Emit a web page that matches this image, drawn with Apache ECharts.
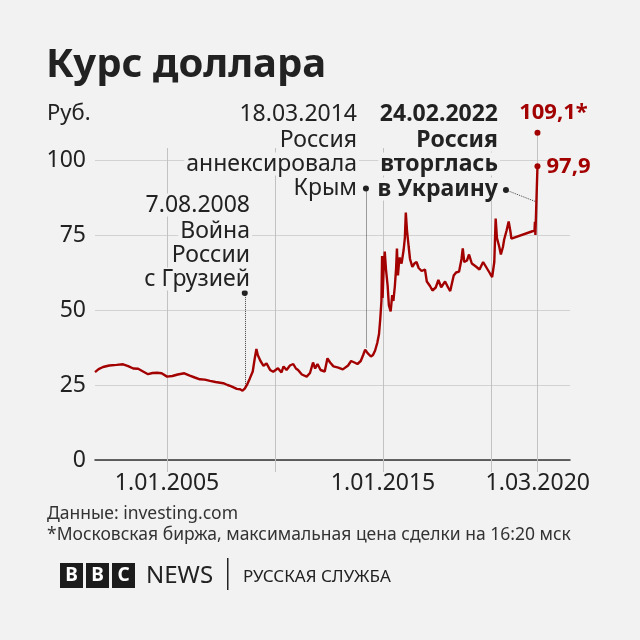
<!DOCTYPE html>
<html>
<head>
<meta charset="utf-8">
<script src="https://cdn.jsdelivr.net/npm/echarts@6/dist/echarts.min.js"></script>
<style>
  html, body { margin: 0; padding: 0; background: #f2f2f2; }
  #chart { width: 640px; height: 640px; }
</style>
</head>
<body>
<div id="chart"></div>
<script>
// курс доллара, значения
var dates = [
  '2001-09-01', '2001-11-01', '2002-01-15', '2002-05-01', '2002-09-01', '2002-12-20',
  '2003-03-15', '2003-06-10', '2003-09-01', '2003-11-15', '2004-02-15', '2004-05-01',
  '2004-07-15', '2004-10-01', '2005-01-01', '2005-04-01', '2005-07-01', '2005-10-20',
  '2006-01-20', '2006-04-15', '2006-07-10', '2006-10-01', '2006-12-28', '2007-04-01',
  '2007-08-10', '2007-10-20', '2007-12-15', '2008-03-25', '2008-05-20', '2008-06-30',
  '2008-08-07', '2008-09-20', '2008-11-01', '2008-12-20', '2009-01-20', '2009-02-20',
  '2009-03-15', '2009-04-30', '2009-06-20', '2009-08-10', '2009-10-10', '2009-12-01',
  '2010-02-20', '2010-04-20', '2010-05-25', '2010-07-15', '2010-09-10', '2010-11-05',
  '2010-12-20', '2011-01-25', '2011-03-30', '2011-06-20', '2011-08-15', '2011-10-05',
  '2011-11-10', '2011-12-20', '2012-02-10', '2012-04-20', '2012-06-05', '2012-07-20',
  '2012-09-15', '2012-12-05', '2013-02-20', '2013-05-20', '2013-07-10', '2013-09-05',
  '2013-10-25', '2013-12-20', '2014-01-30', '2014-03-05', '2014-03-18', '2014-04-15',
  '2014-06-10', '2014-07-15', '2014-08-20', '2014-09-25', '2014-10-25', '2014-11-15',
  '2014-12-05', '2014-12-16', '2014-12-24', '2015-01-10', '2015-01-30', '2015-02-20',
  '2015-03-20', '2015-04-10', '2015-05-10', '2015-06-05', '2015-06-25', '2015-07-20',
  '2015-08-10', '2015-08-24', '2015-09-10', '2015-10-05', '2015-11-10', '2015-12-15',
  '2016-01-05', '2016-01-21', '2016-02-10', '2016-03-10', '2016-04-01', '2016-05-10',
  '2016-06-15', '2016-07-20', '2016-08-25', '2016-10-15', '2016-12-10', '2017-01-10',
  '2017-03-05', '2017-04-15', '2017-06-10', '2017-07-25', '2017-09-10', '2017-11-15',
  '2018-01-05', '2018-02-10', '2018-04-10', '2018-05-20', '2018-07-10', '2018-08-20',
  '2018-09-10', '2018-10-05', '2018-11-20', '2018-12-25', '2019-02-10', '2019-04-20',
  '2019-06-20', '2019-08-20', '2019-10-20', '2019-12-20', '2020-01-20', '2020-02-25',
  '2020-03-19', '2020-04-10', '2020-05-20', '2020-06-15', '2020-07-20', '2020-08-10',
  '2020-09-20', '2020-10-25', '2020-11-01', '2020-11-25', '2020-12-10', '2022-01-05',
  '2022-01-12', '2022-01-20', '2022-02-24'
]
var rates = [
  29.3, 30.3, 31.0, 31.5, 31.7, 31.9,
  31.3, 30.5, 30.4, 29.6, 28.6, 29.0,
  29.1, 28.9, 27.8, 28.0, 28.5, 28.9,
  28.1, 27.5, 26.9, 26.8, 26.4, 26.0,
  25.6, 25.0, 24.6, 23.7, 23.6, 23.1,
  23.8, 25.3, 27.2, 29.5, 33.5, 37.0,
  35.0, 33.0, 31.4, 32.2, 30.0, 29.4,
  30.6, 29.2, 31.2, 30.0, 31.5, 32.0,
  30.5, 30.0, 28.5, 27.8, 29.0, 32.5,
  30.5, 32.0, 30.0, 29.5, 33.9, 32.5,
  31.2, 30.8, 30.2, 31.5, 33.0, 32.5,
  32.0, 33.0, 35.0, 36.8, 36.4, 35.6,
  34.5, 35.0, 36.5, 39.0, 42.0, 47.0,
  53.0, 68.0, 54.0, 63.0, 69.5, 63.5,
  58.0, 51.5, 49.5, 55.0, 53.0, 58.0,
  64.0, 70.5, 61.5, 67.5, 65.5, 70.0,
  74.0, 82.5, 76.5, 71.0, 67.0, 64.4,
  65.5, 66.0, 64.0, 63.0, 63.5, 59.5,
  58.0, 56.5, 57.5, 60.0, 57.6, 59.5,
  57.5, 56.3, 61.5, 62.5, 62.8, 67.0,
  70.5, 66.0, 66.5, 68.5, 65.5, 64.5,
  63.5, 66.0, 64.0, 62.0, 61.0, 66.0,
  80.5, 74.0, 71.0, 68.5, 71.0, 73.5,
  76.5, 79.5, 80.0, 76.0, 73.8, 76.5,
  79.4, 75.0, 97.9
]

var gridDates = ['2005-01-01', '2010-01-01', '2015-01-01', '2020-01-01', '2022-02-24']
var labelDates = ['2005-01-01', '2015-01-01', '2022-03-01']
var labelTexts = ['1.01.2005', '1.01.2015', '1.03.2020']
var peakDate = '2022-02-24'
var peakValue = 109.1
var closeValue = 97.9

// события: дата, высота точки подписи, значение курса в эту дату
var eventDates = ['2008-08-07', '2014-03-18']
var eventDotValues = [55.7, 90.5]
var eventRateValues = [24.0, 37.5]
var invasionDot = ['2020-09-09', 90]
var invasionEnd = ['2022-02-10', 86]

var RED = '#a30000'
var BG = '#f2f2f2'
var FONT = '"Noto Sans", sans-serif'

var chart = echarts.init(document.getElementById('chart'))
var ts = function(s) { return Date.parse(s + 'T00:00:00Z') }
var labelTs = labelDates.map(ts)

var markLines = gridDates.map(function(d, i) {
  var top = i === gridDates.length - 1 ? peakValue : 104
  return [
    { coord: [ts(d), 0], lineStyle: { color: '#c2c2c2', width: 1, type: 'solid' } },
    { coord: [ts(d), top] }
  ]
})
eventDates.forEach(function(d, i) {
  markLines.push([
    { coord: [ts(d), eventDotValues[i]], lineStyle: { color: '#444', width: 1, type: 'dotted' } },
    { coord: [ts(d), eventRateValues[i]] }
  ])
})
markLines.push([
  { coord: [ts(invasionDot[0]), invasionDot[1]], lineStyle: { color: '#444', width: 1, type: 'dotted', curveness: 0.35 } },
  { coord: [ts(invasionEnd[0]), invasionEnd[1]] }
])

var markPoints = [
  {
    coord: [ts(peakDate), peakValue], symbolSize: 6, itemStyle: { color: RED },
    label: { show: true, formatter: '109,1*', position: 'top', distance: 6, offset: [16, 0],
      color: RED, fontWeight: 'bold', fontSize: 22 }
  },
  {
    coord: [ts(peakDate), closeValue], symbolSize: 6, itemStyle: { color: RED },
    label: { show: true, formatter: '97,9', position: 'right', distance: 6,
      color: RED, fontWeight: 'bold', fontSize: 22 }
  }
]
eventDates.forEach(function(d, i) {
  markPoints.push({ coord: [ts(d), eventDotValues[i]], symbolSize: 6, itemStyle: { color: '#222' }, label: { show: false } })
})
markPoints.push({ coord: [ts(invasionDot[0]), invasionDot[1]], symbolSize: 6, itemStyle: { color: '#222' }, label: { show: false } })

function txt(text, x, y, opts) {
  opts = opts || {}
  var style = {
    text: text,
    fill: opts.fill || '#222',
    font: (opts.bold ? 'bold ' : '') + (opts.size || 23) + 'px ' + FONT,
    textAlign: opts.align || 'left',
    textVerticalAlign: 'middle'
  }
  if (opts.box) {
    style.backgroundColor = BG
    style.padding = [0, 2]
  }
  return { type: 'text', x: x, y: y, z: 20, silent: true, style: style }
}

var graphics = [
  txt('Руб.', 47, 114, { size: 22 }),
  txt('18.03.2014', 359, 114, { align: 'right', box: true }),
  txt('Россия', 359, 140, { align: 'right', box: true }),
  txt('аннексировала', 359, 164, { align: 'right', box: true }),
  txt('Крым', 359, 188, { align: 'right', box: true }),
  txt('7.08.2008', 252, 205, { align: 'right', box: true }),
  txt('Война', 252, 231, { align: 'right', box: true }),
  txt('России', 252, 255, { align: 'right', box: true }),
  txt('с Грузией', 252, 279, { align: 'right', box: true }),
  txt('24.02.2022', 500, 114, { align: 'right', bold: true, box: true }),
  txt('Россия', 500, 140, { align: 'right', bold: true, box: true }),
  txt('вторглась', 500, 164, { align: 'right', bold: true, box: true }),
  txt('в Украину', 500, 189, { align: 'right', bold: true, box: true }),
  txt('Данные: investing.com', 47, 514, { size: 17.5, fill: '#333' }),
  txt('*Московская биржа, максимальная цена сделки на 16:20 мск', 47, 535, { size: 17.5, fill: '#333' })
]
// логотип BBC
;['B', 'B', 'C'].forEach(function(ch, i) {
  graphics.push({ type: 'rect', z: 20, silent: true, shape: { x: 60 + i * 26, y: 563, width: 23, height: 25 }, style: { fill: '#1c1c1c' } })
  graphics.push(txt(ch, 71.5 + i * 26, 576, { bold: true, size: 19, fill: '#fff', align: 'center' }))
})
graphics.push(txt('NEWS', 146, 576, { size: 24 }))
graphics.push({ type: 'rect', z: 20, silent: true, shape: { x: 227, y: 558, width: 1.5, height: 32 }, style: { fill: '#222' } })
graphics.push(txt('РУССКАЯ СЛУЖБА', 243, 577, { size: 17 }))

chart.setOption({
  animation: false,
  backgroundColor: BG,
  textStyle: { fontFamily: FONT },
  title: {
    text: 'Курс доллара', left: 46, top: 46, padding: 0,
    textStyle: { fontSize: 40, fontWeight: 'bold', color: '#222', fontFamily: FONT }
  },
  grid: { left: 95, right: 70, top: 130, bottom: 180 },
  xAxis: {
    type: 'value',
    min: ts('2001-09-01'),
    max: ts('2023-08-28'),
    axisLine: { lineStyle: { color: '#333', width: 1.5 } },
    axisTick: { customValues: gridDates.map(ts), length: 12, lineStyle: { color: '#c2c2c2' } },
    axisLabel: {
      customValues: labelTs,
      margin: 12,
      fontSize: 23,
      color: '#222',
      formatter: function(v) {
        var i = labelTs.indexOf(v)
        return i >= 0 ? labelTexts[i] : ''
      }
    },
    splitLine: { show: false }
  },
  yAxis: {
    type: 'value',
    min: 0,
    max: 110,
    interval: 25,
    axisLine: { show: false },
    axisTick: { show: false },
    axisLabel: { fontSize: 23, color: '#222', margin: 9, showMaxLabel: false },
    splitLine: { showMaxLine: false, lineStyle: { color: '#d2d2d2', width: 1 } }
  },
  graphic: graphics,
  series: [{
    type: 'line',
    z: 10,
    data: dates.map(function(d, i) { return [ts(d), rates[i]] }),
    showSymbol: false,
    lineStyle: { color: RED, width: 2.4 },
    itemStyle: { color: RED },
    markLine: { silent: true, symbol: 'none', label: { show: false }, data: markLines },
    markPoint: { silent: true, symbol: 'circle', data: markPoints }
  }]
})
</script>
</body>
</html>
